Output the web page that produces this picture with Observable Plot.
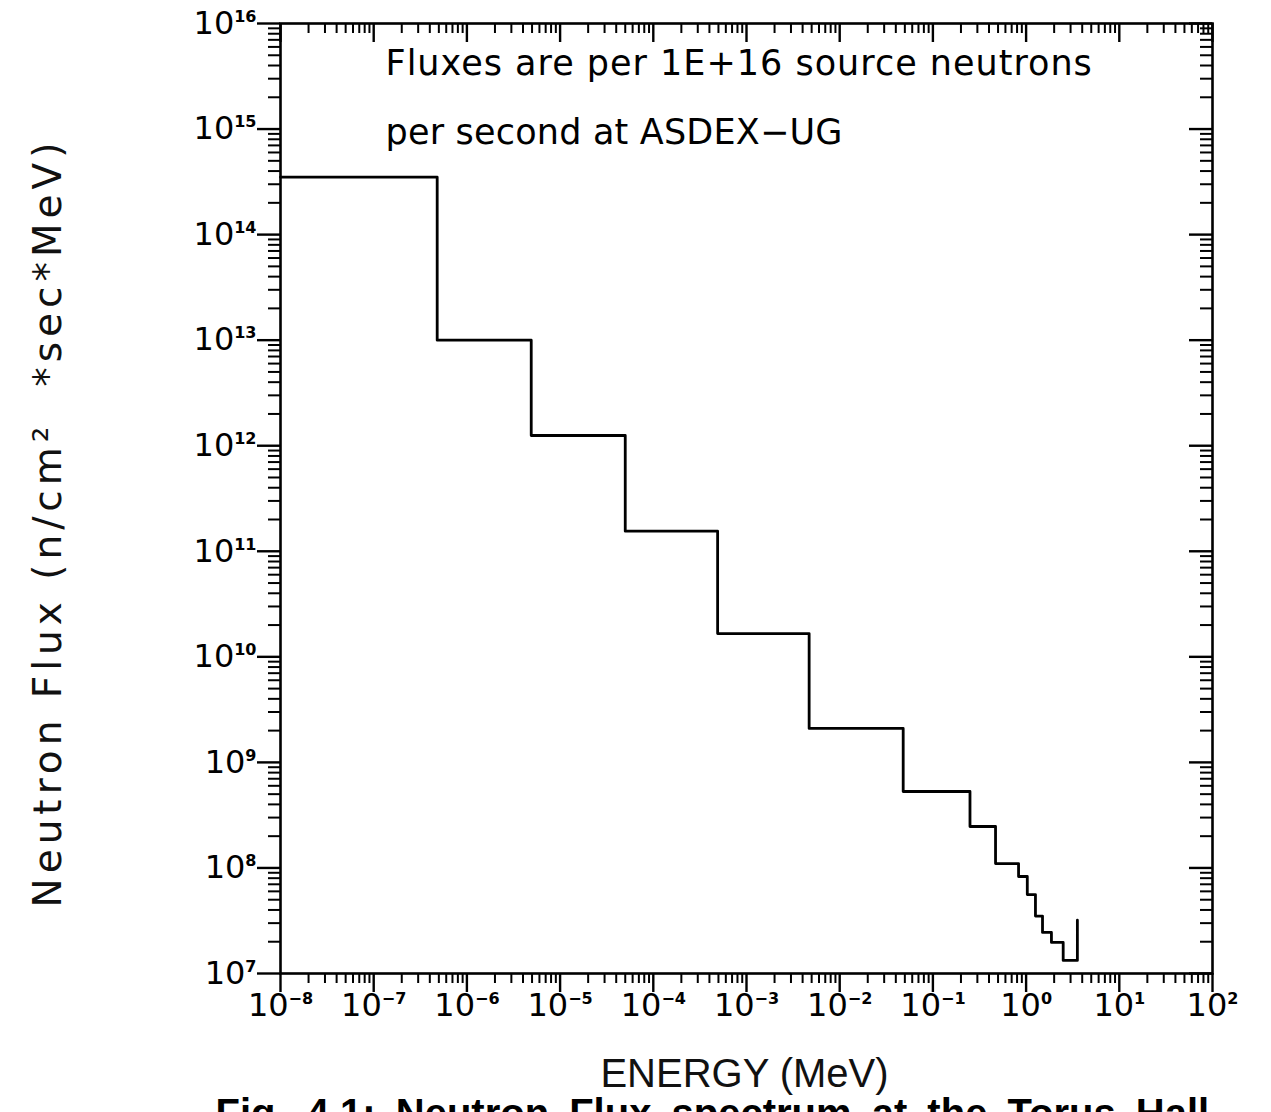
<!DOCTYPE html>
<html>
<head>
<meta charset="utf-8">
<script src="https://cdn.jsdelivr.net/npm/d3@7"></script>
<script src="https://cdn.jsdelivr.net/npm/@observablehq/plot@0.6"></script>
<style>
  html, body { margin: 0; padding: 0; background: #fff; overflow: hidden; }
  #chart svg { display: block; }
</style>
</head>
<body>
<div id="chart"></div>
<script>
// ---- data ----
// lower energy edge of each group (MeV); last entry is the upper end of the spectrum
const binLowEdges = [1e-8, 4.8e-7, 4.9e-6, 5.0e-5, 4.9e-4, 4.7e-3, 0.048, 0.25, 0.47, 0.83, 1.03, 1.26, 1.5, 1.87, 2.5, 3.55];
// flux in each group (n/cm^2/sec/MeV); last value is the closing vertical at the top energy
const fluxValues = [3.5e14, 1.0e13, 1.25e12, 1.55e11, 1.66e10, 2.1e9, 5.3e8, 2.47e8, 1.1e8, 8.3e7, 5.6e7, 3.5e7, 2.45e7, 1.97e7, 1.33e7, 3.2e7];

const xDecades = [-8, -7, -6, -5, -4, -3, -2, -1, 0, 1, 2];
const yDecades = [7, 8, 9, 10, 11, 12, 13, 14, 15, 16];

const noteLines = ["Fluxes are per 1E+16 source neutrons", "per second at ASDEX\u2212UG"];
const xTitle = "ENERGY (MeV)";
const yTitle = "Neutron Flux (n/cm\u00B2  *sec*MeV)";
const caption = "Fig. 4.1: Neutron Flux spectrum at the Torus Hall";

// ---- derived ----
const spectrum = binLowEdges.map((e, i) => ({energy: e, flux: fluxValues[i]}));
const xMajor = xDecades.map(k => Math.pow(10, k));
const yMajor = yDecades.map(k => Math.pow(10, k));
const minorOf = (decs) => {
  const out = [];
  decs.slice(0, -1).forEach(k => { for (let m = 2; m <= 9; m++) out.push(m * Math.pow(10, k)); });
  return out;
};
const xMinor = minorOf(xDecades);
const yMinor = minorOf(yDecades);

const W = 1271, H = 1112;
const mL = 280, mR = 59, mT = 23, mB = 139;
const fw = W - mL - mR, fh = H - mT - mB;
const font = "'DejaVu Sans', 'Liberation Sans', sans-serif";
const expFmt = d => "10^" + Math.round(Math.log10(d));
const none = () => "";

const chart = Plot.plot({
  width: W, height: H,
  marginLeft: mL, marginRight: mR, marginTop: mT, marginBottom: mB,
  style: {fontFamily: font, background: "#fff", color: "#000", overflow: "hidden"},
  x: {type: "log", domain: [1e-8, 1e2]},
  y: {type: "log", domain: [1e7, 1e16]},
  marks: [
    // bottom axis (outward ticks)
    Plot.axisX({anchor: "bottom", ticks: xMinor, tickSize: 10, tickFormat: none, strokeWidth: 2, label: null}),
    Plot.axisX({anchor: "bottom", ticks: xMajor, tickSize: 19, tickPadding: 1, tickFormat: expFmt,
                fontSize: 32, strokeWidth: 2.4, label: null}),
    // left axis (outward ticks)
    Plot.axisY({anchor: "left", ticks: yMinor, tickSize: 12, tickFormat: none, strokeWidth: 2, label: null}),
    Plot.axisY({anchor: "left", ticks: yMajor, tickSize: 23, tickPadding: 1, tickFormat: expFmt,
                fontSize: 32, strokeWidth: 2.4, label: null}),
    // top axis ticks pointing into the frame
    Plot.tickX(xMinor, {x: d => d, insetBottom: fh - 10, strokeWidth: 2}),
    Plot.tickX(xMajor, {x: d => d, insetBottom: fh - 19, strokeWidth: 2.4}),
    // right axis ticks pointing into the frame
    Plot.tickY(yMinor, {y: d => d, insetLeft: fw - 12, strokeWidth: 2}),
    Plot.tickY(yMajor, {y: d => d, insetLeft: fw - 23, strokeWidth: 2.4}),
    Plot.frame({stroke: "#000", strokeWidth: 2.6}),
    // the spectrum
    Plot.line(spectrum, {x: "energy", y: "flux", curve: "step-after", stroke: "#000", strokeWidth: 2.8}),
    // note inside the plot
    Plot.text([noteLines[0]], {frameAnchor: "top-left", textAnchor: "start", dx: 105, dy: 27,
                               fontSize: 35, fill: "#000"}),
    Plot.text([noteLines[1]], {frameAnchor: "top-left", textAnchor: "start", dx: 105, dy: 96,
                               fontSize: 35, fill: "#000"}),
    // axis titles
    Plot.text([yTitle], {frameAnchor: "left", textAnchor: "middle", rotate: -90, dx: -232, dy: 24, fontSize: 39,
                         fontFamily: "'DejaVu Sans', sans-serif", fill: "#111"}),
    Plot.text([xTitle], {frameAnchor: "bottom", textAnchor: "middle", dx: -2, dy: 113, fontSize: 40,
                         fontFamily: "'Liberation Sans Narrow', 'Liberation Sans', sans-serif", fill: "#111"}),
    // caption (cut off by the page bottom)
    Plot.text([caption], {frameAnchor: "bottom-left", textAnchor: "start", dx: -65, dy: 153, fontSize: 40,
                          fontWeight: "bold", fontFamily: "'Liberation Sans', sans-serif", fill: "#000"})
  ]
});

// superscript exponents on tick labels
const NS = "http://www.w3.org/2000/svg";
chart.querySelectorAll('g[aria-label="x-axis tick label"] text, g[aria-label="y-axis tick label"] text').forEach(t => {
  const s = t.textContent;
  if (!s.startsWith("10^")) return;
  const e = s.slice(3).replace("-", "\u2212");
  t.textContent = "";
  const base = document.createElementNS(NS, "tspan");
  base.textContent = "10";
  const sup = document.createElementNS(NS, "tspan");
  sup.textContent = e;
  sup.setAttribute("dy", "-12");
  sup.setAttribute("font-size", "16");
  sup.setAttribute("font-weight", "bold");
  t.append(base, sup);
});

// text spacing tweaks
const spacing = new Map([
  [noteLines[0], ["letter-spacing", "1px"]],
  [noteLines[1], ["letter-spacing", "0.2px"]],
  [yTitle, ["letter-spacing", "5px"]],
  [caption, ["word-spacing", "9px"]]
]);
chart.querySelectorAll("text").forEach(t => {
  const s = spacing.get(t.textContent);
  if (s) t.style.setProperty(s[0], s[1]);
});

document.getElementById("chart").append(chart);
</script>
</body>
</html>
